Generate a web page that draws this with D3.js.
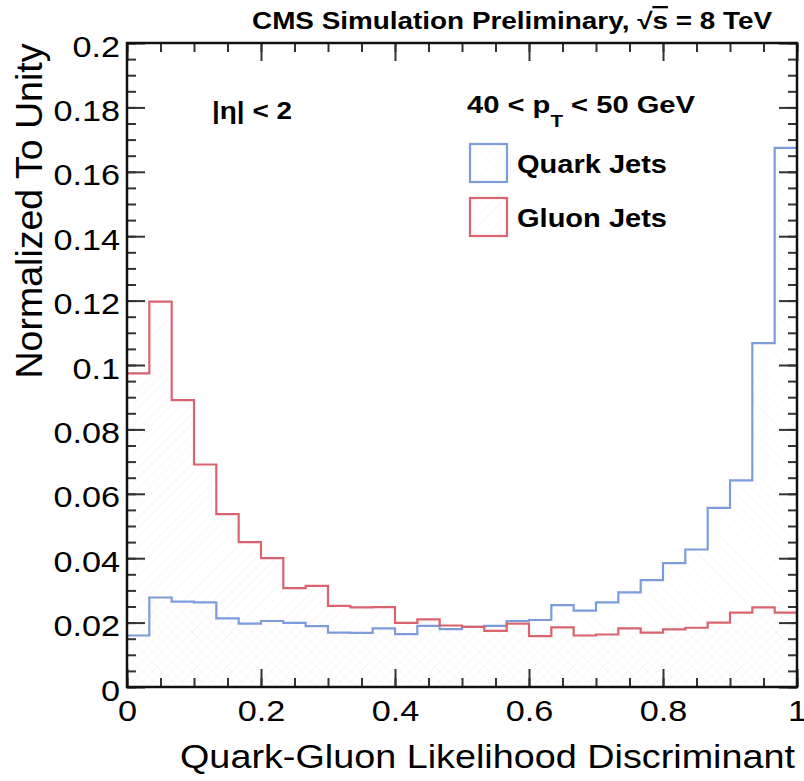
<!DOCTYPE html>
<html>
<head>
<meta charset="utf-8">
<script src="https://cdn.jsdelivr.net/npm/d3@7"></script>
<style>
  body { margin: 0; background: #fff; overflow: hidden; }
  svg { display: block; }
  text { font-family: "Liberation Sans", Arial, Helvetica, sans-serif; fill: #000; }
</style>
</head>
<body>
<div id="chart"></div>
<script>
// Daten: 30 Bins von 0 bis 1, normiert auf 1
const nBins = 30;
const quarkValues = [0.0160, 0.0278, 0.0265, 0.0263, 0.0213, 0.0197, 0.0205, 0.0199, 0.0189, 0.0169,
                     0.0168, 0.0182, 0.0164, 0.0190, 0.0180, 0.0187, 0.0190, 0.0205, 0.0208, 0.0254,
                     0.0237, 0.0263, 0.0294, 0.0332, 0.0385, 0.0427, 0.0556, 0.0642, 0.1068, 0.1674];
const gluonValues = [0.0974, 0.1197, 0.0891, 0.0691, 0.0537, 0.0450, 0.0400, 0.0307, 0.0314, 0.0252,
                     0.0247, 0.0248, 0.0199, 0.0210, 0.0191, 0.0187, 0.0174, 0.0197, 0.0158, 0.0185,
                     0.0160, 0.0163, 0.0182, 0.0169, 0.0179, 0.0184, 0.0200, 0.0231, 0.0247, 0.0231];
const xTicks = [0, 0.2, 0.4, 0.6, 0.8, 1];
const xTickLabels = ["0", "0.2", "0.4", "0.6", "0.8", "1"];
const yTicks = [0, 0.02, 0.04, 0.06, 0.08, 0.1, 0.12, 0.14, 0.16, 0.18, 0.2];
const yTickLabels = ["0", "0.02", "0.04", "0.06", "0.08", "0.1", "0.12", "0.14", "0.16", "0.18", "0.2"];
const seriesNames = ["Quark Jets", "Gluon Jets"];

const width = 804, height = 781;
const margin = { top: 43, right: 7, bottom: 94, left: 127 };
const innerWidth = width - margin.left - margin.right;
const innerHeight = height - margin.top - margin.bottom;

const colQuark = "#7c9cdc";
const colGluon = "#d9636f";

const svg = d3.select("#chart").append("svg")
  .attr("width", width)
  .attr("height", height);

// Schraffur-Muster (sehr blass, wie im ROOT-Plot)
const defs = svg.append("defs");
function hatch(id, color, angle) {
  const p = defs.append("pattern")
    .attr("id", id)
    .attr("patternUnits", "userSpaceOnUse")
    .attr("width", 7).attr("height", 7)
    .attr("patternTransform", `rotate(${angle})`);
  p.append("line")
    .attr("x1", 0).attr("y1", 0).attr("x2", 0).attr("y2", 7)
    .attr("stroke", color).attr("stroke-width", 1.1).attr("stroke-opacity", 0.11);
}
hatch("hatchQuark", colQuark, -45);
hatch("hatchGluon", colGluon, 45);

const g = svg.append("g").attr("transform", `translate(${margin.left},${margin.top})`);

const x = d3.scaleLinear().domain([0, 1]).range([0, innerWidth]);
const y = d3.scaleLinear().domain([0, 0.2]).range([innerHeight, 0]);

// Histogramm-Punkte (Bin-Kanten, letzter Wert wiederholt für curveStepAfter)
function toSteps(vals) {
  const pts = vals.map((v, i) => [i / nBins, v]);
  pts.push([1, vals[vals.length - 1]]);
  return pts;
}

const area = d3.area()
  .x(d => x(d[0])).y0(y(0)).y1(d => y(d[1]))
  .curve(d3.curveStepAfter);
const line = d3.line()
  .x(d => x(d[0])).y(d => y(d[1]))
  .curve(d3.curveStepAfter);

const hists = [
  { vals: quarkValues, color: colQuark, pat: "url(#hatchQuark)" },
  { vals: gluonValues, color: colGluon, pat: "url(#hatchGluon)" }
];

hists.forEach(h => {
  g.append("path").attr("d", area(toSteps(h.vals))).attr("fill", h.pat);
});
hists.forEach(h => {
  g.append("path").attr("d", line(toSteps(h.vals)))
    .attr("fill", "none").attr("stroke", h.color).attr("stroke-width", 2.2);
});

// Achsen: Haupt- und Nebenticks auf allen vier Seiten
const major = 18, minor = 9;
const yMinor = d3.range(0, 0.2001, 0.005);
const xMinor = d3.range(0, 1.0001, 0.05);

function styleAxis(sel) {
  sel.select(".domain").remove();
  sel.selectAll(".tick line").attr("stroke", "#333").attr("stroke-width", 2);
}
// nur Striche, leere Beschriftungen entfernen
function ticksOnly(sel) {
  styleAxis(sel);
  sel.selectAll(".tick text").remove();
}

g.append("g").call(d3.axisLeft(y).tickValues(yMinor).tickSize(-minor))
  .call(ticksOnly);
g.append("g").attr("transform", `translate(${innerWidth},0)`)
  .call(d3.axisRight(y).tickValues(yMinor).tickSize(-minor))
  .call(ticksOnly);
g.append("g").attr("transform", `translate(${innerWidth},0)`)
  .call(d3.axisRight(y).tickValues(yTicks).tickSize(-major))
  .call(ticksOnly);
g.append("g").attr("transform", `translate(0,${innerHeight})`)
  .call(d3.axisBottom(x).tickValues(xMinor).tickSize(-minor))
  .call(ticksOnly);
g.append("g")
  .call(d3.axisTop(x).tickValues(xMinor).tickSize(-minor))
  .call(ticksOnly);
g.append("g")
  .call(d3.axisTop(x).tickValues(xTicks).tickSize(-major))
  .call(ticksOnly);

const yAxis = g.append("g")
  .call(d3.axisLeft(y).tickValues(yTicks).tickSize(-major).tickPadding(7)
    .tickFormat((d, i) => yTickLabels[i]))
  .call(styleAxis);
yAxis.selectAll("text")
  .attr("font-size", 29).attr("dy", "0.45em")
  .style("font-family", "'Liberation Sans', Arial, sans-serif");

const xAxis = g.append("g").attr("transform", `translate(0,${innerHeight})`)
  .call(d3.axisBottom(x).tickValues(xTicks).tickSize(-major).tickPadding(13)
    .tickFormat((d, i) => xTickLabels[i]))
  .call(styleAxis);
xAxis.selectAll("text")
  .attr("font-size", 29)
  .style("font-family", "'Liberation Sans', Arial, sans-serif");

// Tick-Beschriftung etwas breiter ziehen (Original ist horizontal gestreckt)
svg.selectAll(".tick text").each(function () {
  const w = this.getComputedTextLength();
  d3.select(this).attr("textLength", w * 1.18).attr("lengthAdjust", "spacingAndGlyphs");
});

// Rahmen
g.append("rect")
  .attr("width", innerWidth).attr("height", innerHeight)
  .attr("fill", "none").attr("stroke", "#111").attr("stroke-width", 2.5);

// Achsentitel
svg.append("text")
  .attr("x", 795).attr("y", 768)
  .attr("text-anchor", "end")
  .attr("font-size", 34)
  .attr("textLength", 615).attr("lengthAdjust", "spacingAndGlyphs")
  .text("Quark-Gluon Likelihood Discriminant");

svg.append("text")
  .attr("transform", "translate(42,211) rotate(-90)")
  .attr("text-anchor", "middle")
  .attr("font-size", 37)
  .attr("textLength", 335).attr("lengthAdjust", "spacingAndGlyphs")
  .text("Normalized To Unity");

// Titel
const title = svg.append("text")
  .attr("x", 772).attr("y", 29)
  .attr("text-anchor", "end")
  .attr("font-size", 23).attr("font-weight", "bold")
  .attr("textLength", 520).attr("lengthAdjust", "spacingAndGlyphs");
title.append("tspan").text("CMS Simulation Preliminary, √");
title.append("tspan").style("text-decoration", "overline").text("s");
title.append("tspan").text(" = 8 TeV");

// Beschriftungen im Plot
svg.append("text")
  .attr("x", 212).attr("y", 119)
  .attr("font-size", 23).attr("font-weight", "bold")
  .attr("textLength", 80).attr("lengthAdjust", "spacingAndGlyphs")
  .text("|η| < 2");

const pt = svg.append("text")
  .attr("x", 467).attr("y", 113)
  .attr("font-size", 24).attr("font-weight", "bold")
  .attr("textLength", 228).attr("lengthAdjust", "spacingAndGlyphs");
pt.append("tspan").text("40 < p");
pt.append("tspan").attr("dy", 14).attr("font-size", 17).text("T");
pt.append("tspan").attr("dy", -14).text(" < 50 GeV");

// Legende
const legend = svg.append("g");
hists.forEach((h, i) => {
  const top = 144 + i * 54;
  legend.append("rect")
    .attr("x", 470).attr("y", top).attr("width", 37).attr("height", 38)
    .attr("fill", h.pat).attr("stroke", h.color).attr("stroke-width", 2.2);
  legend.append("text")
    .attr("x", 517).attr("y", top + 29)
    .attr("font-size", 26).attr("font-weight", "bold")
    .attr("textLength", 150).attr("lengthAdjust", "spacingAndGlyphs")
    .text(seriesNames[i]);
});
</script>
</body>
</html>
